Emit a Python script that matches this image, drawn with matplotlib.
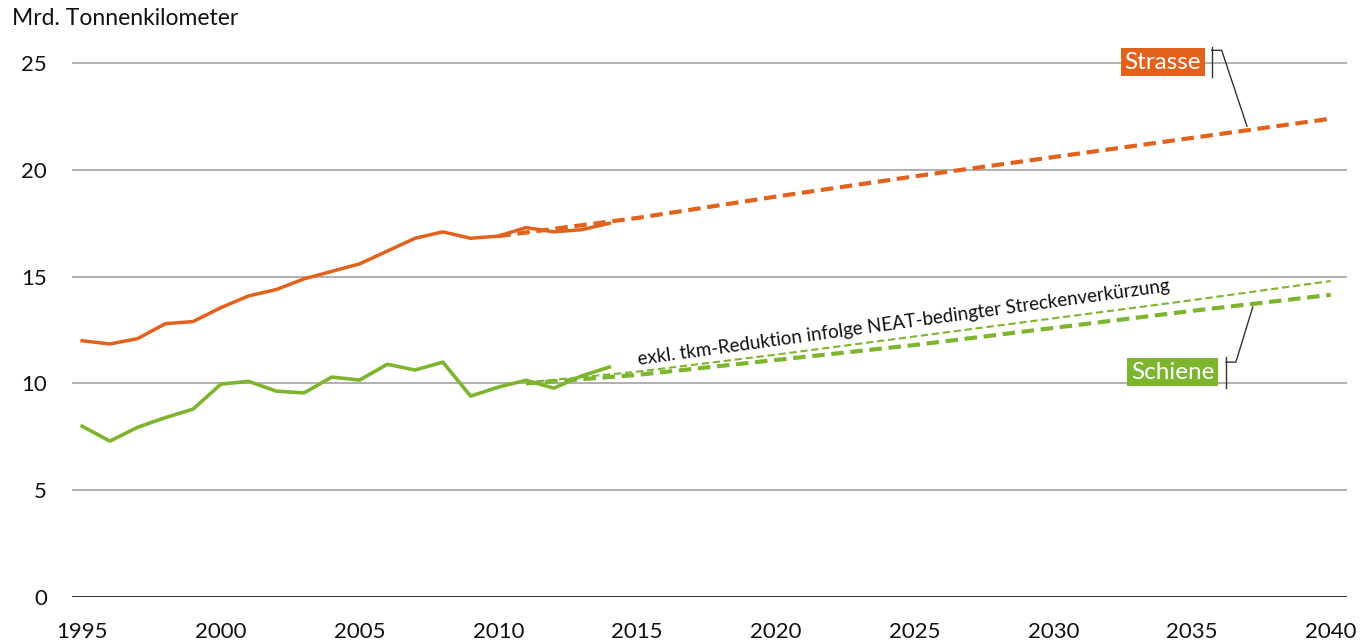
import matplotlib
matplotlib.use("Agg")
import matplotlib.pyplot as plt

plt.rcParams['font.family'] = ['Lato', 'DejaVu Sans']

# historische Werte (Mrd. tkm)
years_hist = list(range(1995, 2015))
strasse_hist = [12.0, 11.85, 12.1, 12.8, 12.9, 13.55, 14.1, 14.4, 14.9, 15.25,
                15.6, 16.2, 16.8, 17.1, 16.8, 16.9, 17.3, 17.1, 17.2, 17.5]
schiene_hist = [8.0, 7.3, 7.95, 8.4, 8.8, 9.97, 10.1, 9.64, 9.56, 10.3,
                10.16, 10.9, 10.63, 11.0, 9.41, 9.83, 10.15, 9.78, 10.35, 10.77]

# Prognose
years_strasse_prog = [2010, 2015, 2020, 2025, 2030, 2035, 2040]
strasse_prog = [16.9, 17.75, 18.75, 19.7, 20.6, 21.5, 22.4]
years_schiene_prog = [2011, 2015, 2020, 2025, 2030, 2035, 2040]
schiene_prog = [10.0, 10.4, 11.1, 11.8, 12.6, 13.4, 14.15]
schiene_prog_exkl = [10.05, 10.55, 11.35, 12.2, 13.05, 13.9, 14.8]

yticks = [0, 5, 10, 15, 20, 25]
xticks = list(range(1995, 2041, 5))

orange = '#E2611B'
green = '#7DB52F'

fig = plt.figure(figsize=(13.61, 6.43), dpi=100)
ax = fig.add_axes([0.053, 0.0715, 0.937, 0.8635])

for v in yticks[1:]:
    ax.axhline(v, color='#A9A9A9', lw=1.3, zorder=0)
ax.axhline(0, color='#222222', lw=1.3, zorder=0)

ax.plot(years_strasse_prog, strasse_prog, color=orange, lw=3.0, ls=(0, (3, 1.6)))
ax.plot(years_hist, strasse_hist, color=orange, lw=2.5)
ax.plot(years_schiene_prog, schiene_prog_exkl, color=green, lw=1.5, ls=(0, (3.5, 1.8)))
ax.plot(years_schiene_prog, schiene_prog, color=green, lw=3.0, ls=(0, (3, 1.6)))
ax.plot(years_hist, schiene_hist, color=green, lw=2.6)

ax.set_xlim(1994.64, 2040.6)
ax.set_ylim(0, 26)
ax.set_xticks(xticks)
ax.set_yticks(yticks)
ax.tick_params(length=0, labelsize=16, colors='#111111')
ax.tick_params(axis='x', pad=18)
ax.tick_params(axis='y', pad=18)
for s in ax.spines.values():
    s.set_visible(False)

fig.text(0.009, 0.972, 'Mrd. Tonnenkilometer', fontsize=16.5, color='#111111',
         va='center', ha='left')

# Beschriftungen
ax.text(2033.95, 25.05, 'Strasse', color='white', fontsize=17.5, ha='center', va='center',
        bbox=dict(boxstyle='square,pad=0.15', fc=orange, ec='none'))
ax.text(2034.3, 10.53, 'Schiene', color='white', fontsize=17.5, ha='center', va='center',
        bbox=dict(boxstyle='square,pad=0.15', fc=green, ec='none'))

ax.plot([2035.71, 2035.71], [25.75, 24.34], color='#333333', lw=1.0)
ax.plot([2035.71, 2036.07, 2036.98], [25.6, 25.6, 22.05], color='#333333', lw=1.0)
ax.plot([2036.22, 2036.22], [11.24, 9.78], color='#333333', lw=1.0)
ax.plot([2036.22, 2036.58, 2037.19], [11.0, 11.0, 13.58], color='#333333', lw=1.0)

ax.text(2024.6, 12.87, 'exkl. tkm-Reduktion infolge NEAT-bedingter Streckenverkürzung',
        fontsize=13.5, color='#111111', rotation=7.9, rotation_mode='anchor',
        ha='center', va='center')

fig.savefig('out.png', dpi=100)
